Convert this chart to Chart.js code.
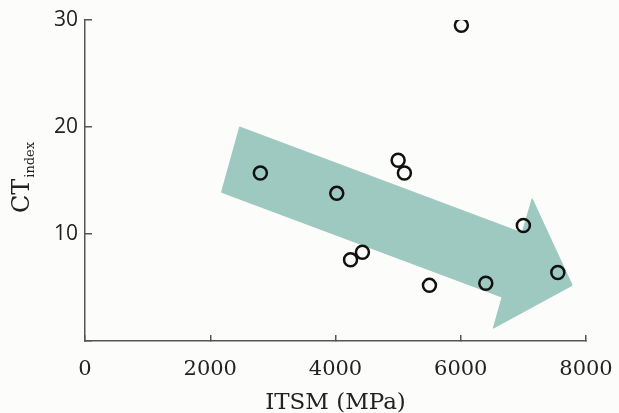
<!DOCTYPE html>
<html><head><meta charset="utf-8">
<script src="https://cdn.jsdelivr.net/npm/chart.js@4/dist/chart.umd.min.js"></script>
<style>html,body{margin:0;padding:0;background:#fcfcfa;}#wrap{width:619px;height:413px;}</style>
</head><body><div id="wrap"><canvas id="c" width="619" height="413"></canvas></div>
<script>
// Measured points: ITSM (MPa) vs CT index
const itsm = [2800, 4020, 4240, 4430, 5000, 5100, 6010, 5500, 6400, 7000, 7550];
const ctIndex = [15.7, 13.8, 7.6, 8.3, 16.9, 15.7, 29.5, 5.2, 5.4, 10.8, 6.4];
// Trend arrow outline (data coordinates)
const arrowX = [2470, 6980, 7140, 7780, 6520, 6660, 2180, 2470];
const arrowY = [20.0, 10.1, 13.3, 5.2, 1.2, 4.1, 13.9, 20.0];
const xTicks = [0, 2000, 4000, 6000, 8000];
const yTicks = [0, 10, 20, 30];

const pts = itsm.map((x, i) => ({x, y: ctIndex[i]}));
const arrow = arrowX.map((x, i) => ({x, y: arrowY[i]}));

const bg = {id:'bg', beforeDraw(c){const ctx=c.ctx;ctx.save();ctx.fillStyle='#fcfcfa';ctx.fillRect(0,0,c.width,c.height);ctx.restore();}};
const ytitle = {id:'ytitle', afterDraw(c){
  const ctx=c.ctx; ctx.save();
  const cy=(c.chartArea.top+c.chartArea.bottom)/2 - 3;
  ctx.font='24px "DejaVu Serif"';
  const w1=ctx.measureText('CT').width;
  ctx.font='13px "DejaVu Serif"';
  const w2=ctx.measureText('index').width;
  const total=w1+1+w2;
  ctx.translate(29, cy+total/2);
  ctx.rotate(-Math.PI/2);
  ctx.fillStyle='#222'; ctx.textBaseline='alphabetic'; ctx.textAlign='left';
  ctx.font='24px "DejaVu Serif"';
  ctx.fillText('CT',0,0);
  ctx.font='13px "DejaVu Serif"';
  ctx.fillText('index',w1+1,5);
  ctx.restore();
}};
function noPad(s){s.paddingLeft=0;s.paddingRight=0;s.paddingTop=0;s.paddingBottom=0;}

new Chart(document.getElementById('c'), {
  type:'scatter',
  data:{datasets:[
    {label:'points', data:pts, pointRadius:6.5, pointHoverRadius:6.5, pointBorderWidth:2.5, pointBorderColor:'#111', pointBackgroundColor:'rgba(0,0,0,0)', showLine:false},
    {label:'arrow', data:arrow, showLine:true, fill:'shape', backgroundColor:'rgb(158,201,193)', borderColor:'rgb(158,201,193)', borderWidth:1, pointRadius:0, tension:0}
  ]},
  options:{
    responsive:false, animation:false, devicePixelRatio:1,
    layout:{padding:{top:20,right:33,left:0,bottom:0}},
    plugins:{legend:{display:false}, tooltip:{enabled:false}},
    scales:{
      x:{type:'linear', min:0, max:8000,
        afterBuildTicks(s){s.ticks=xTicks.map(v=>({value:v}));},
        afterFit(s){s.height=72;noPad(s);},
        grid:{drawOnChartArea:false, tickLength:-6, color:'#555', lineWidth:1.5},
        border:{color:'#555', width:1.5},
        ticks:{padding:22, color:'#222', font:{family:'"DejaVu Serif"', size:21}, maxRotation:0, callback:v=>String(v)},
        title:{display:true, text:'ITSM (MPa)', color:'#222', font:{family:'"DejaVu Serif"', size:23}, padding:{top:0,bottom:-4}}
      },
      y:{type:'linear', min:0, max:30,
        afterBuildTicks(s){s.ticks=yTicks.map(v=>({value:v}));},
        afterFit(s){s.width=85;noPad(s);},
        grid:{drawOnChartArea:false, tickLength:-7, color:'#555', lineWidth:1.5},
        border:{color:'#555', width:1.5},
        ticks:{padding:14, color:'#222', font:{family:'"Open Sans"', size:21}, callback:v=>v===0?'':String(v)}
      }
    }
  },
  plugins:[bg, ytitle]
});
</script></body></html>
